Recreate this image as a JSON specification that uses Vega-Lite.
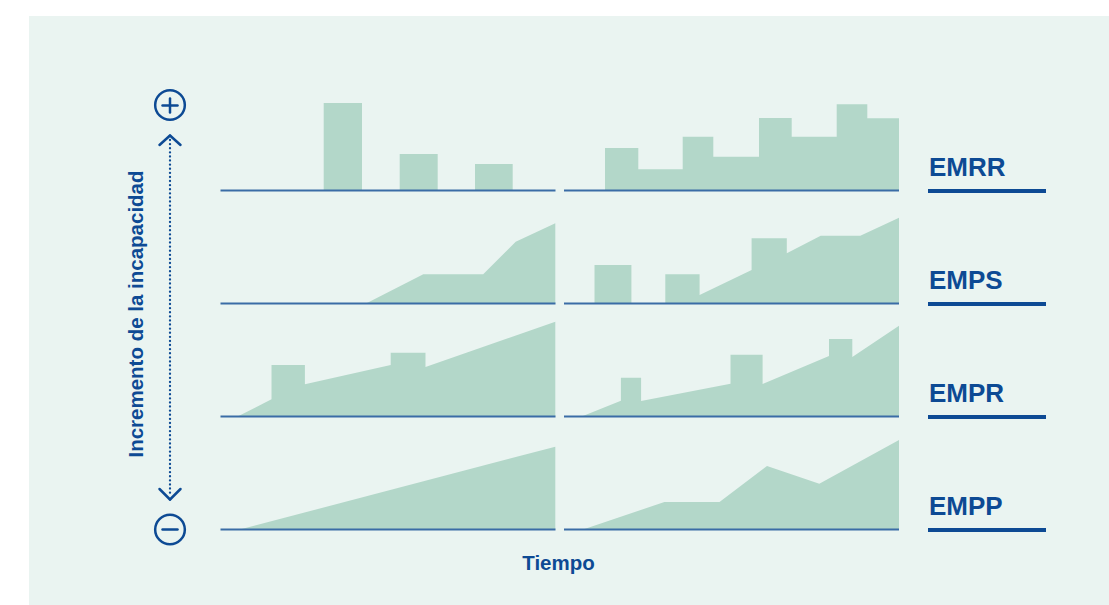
{
  "$schema": "https://vega.github.io/schema/vega-lite/v6.json",
  "width": 1109,
  "height": 605,
  "autosize": {"type": "fit", "contains": "padding"},
  "padding": 0,
  "background": "#ffffff",
  "config": {"view": {"stroke": null}},
  "datasets": {
    "bg": [{"x": 29, "x2": 1109, "y": 16, "y2": 605}],
    "areas": [
      {"s": "r1b1", "x": 323.7, "y": 103, "base": 190.5},
      {"s": "r1b1", "x": 362, "y": 103, "base": 190.5},
      {"s": "r1b2", "x": 399.7, "y": 154, "base": 190.5},
      {"s": "r1b2", "x": 437.7, "y": 154, "base": 190.5},
      {"s": "r1b3", "x": 475, "y": 164, "base": 190.5},
      {"s": "r1b3", "x": 512.7, "y": 164, "base": 190.5},
      {"s": "r1r", "x": 605, "y": 148, "base": 190.5},
      {"s": "r1r", "x": 638.3, "y": 148, "base": 190.5},
      {"s": "r1r", "x": 638.3, "y": 169.3, "base": 190.5},
      {"s": "r1r", "x": 682.7, "y": 169.3, "base": 190.5},
      {"s": "r1r", "x": 682.7, "y": 136.7, "base": 190.5},
      {"s": "r1r", "x": 713.3, "y": 136.7, "base": 190.5},
      {"s": "r1r", "x": 713.3, "y": 156.7, "base": 190.5},
      {"s": "r1r", "x": 759, "y": 156.7, "base": 190.5},
      {"s": "r1r", "x": 759, "y": 118, "base": 190.5},
      {"s": "r1r", "x": 791.7, "y": 118, "base": 190.5},
      {"s": "r1r", "x": 791.7, "y": 136.7, "base": 190.5},
      {"s": "r1r", "x": 836.7, "y": 136.7, "base": 190.5},
      {"s": "r1r", "x": 836.7, "y": 104.3, "base": 190.5},
      {"s": "r1r", "x": 867.3, "y": 104.3, "base": 190.5},
      {"s": "r1r", "x": 867.3, "y": 118.3, "base": 190.5},
      {"s": "r1r", "x": 899, "y": 118.3, "base": 190.5},
      {"s": "r2l", "x": 366, "y": 303.5, "base": 303.5},
      {"s": "r2l", "x": 423.3, "y": 274.3, "base": 303.5},
      {"s": "r2l", "x": 483.2, "y": 274.3, "base": 303.5},
      {"s": "r2l", "x": 515.7, "y": 241.7, "base": 303.5},
      {"s": "r2l", "x": 555.3, "y": 223.3, "base": 303.5},
      {"s": "r2b", "x": 594.5, "y": 265, "base": 303.5},
      {"s": "r2b", "x": 631.4, "y": 265, "base": 303.5},
      {"s": "r2r", "x": 665.3, "y": 274.3, "base": 303.5},
      {"s": "r2r", "x": 699.6, "y": 274.3, "base": 303.5},
      {"s": "r2r", "x": 699.6, "y": 295, "base": 303.5},
      {"s": "r2r", "x": 751.6, "y": 270, "base": 303.5},
      {"s": "r2r", "x": 751.6, "y": 238.3, "base": 303.5},
      {"s": "r2r", "x": 786.8, "y": 238.3, "base": 303.5},
      {"s": "r2r", "x": 786.8, "y": 253.3, "base": 303.5},
      {"s": "r2r", "x": 820.7, "y": 235.7, "base": 303.5},
      {"s": "r2r", "x": 860.3, "y": 235.7, "base": 303.5},
      {"s": "r2r", "x": 899, "y": 217.7, "base": 303.5},
      {"s": "r3l", "x": 237.6, "y": 416.5, "base": 416.5},
      {"s": "r3l", "x": 271.5, "y": 399.3, "base": 416.5},
      {"s": "r3l", "x": 271.5, "y": 365, "base": 416.5},
      {"s": "r3l", "x": 304.9, "y": 365, "base": 416.5},
      {"s": "r3l", "x": 304.9, "y": 384.3, "base": 416.5},
      {"s": "r3l", "x": 390.7, "y": 365, "base": 416.5},
      {"s": "r3l", "x": 390.7, "y": 352.7, "base": 416.5},
      {"s": "r3l", "x": 425.5, "y": 352.7, "base": 416.5},
      {"s": "r3l", "x": 425.5, "y": 367, "base": 416.5},
      {"s": "r3l", "x": 555.3, "y": 321.7, "base": 416.5},
      {"s": "r3r", "x": 581.7, "y": 416.5, "base": 416.5},
      {"s": "r3r", "x": 620.9, "y": 400.7, "base": 416.5},
      {"s": "r3r", "x": 620.9, "y": 377.7, "base": 416.5},
      {"s": "r3r", "x": 641.1, "y": 377.7, "base": 416.5},
      {"s": "r3r", "x": 641.1, "y": 401, "base": 416.5},
      {"s": "r3r", "x": 730.5, "y": 383.7, "base": 416.5},
      {"s": "r3r", "x": 730.5, "y": 354.7, "base": 416.5},
      {"s": "r3r", "x": 762.6, "y": 354.7, "base": 416.5},
      {"s": "r3r", "x": 762.6, "y": 384, "base": 416.5},
      {"s": "r3r", "x": 829, "y": 356, "base": 416.5},
      {"s": "r3r", "x": 829, "y": 339, "base": 416.5},
      {"s": "r3r", "x": 852.3, "y": 339, "base": 416.5},
      {"s": "r3r", "x": 852.3, "y": 357, "base": 416.5},
      {"s": "r3r", "x": 899, "y": 325.7, "base": 416.5},
      {"s": "r4l", "x": 239.8, "y": 529.5, "base": 529.5},
      {"s": "r4l", "x": 555.3, "y": 446.7, "base": 529.5},
      {"s": "r4r", "x": 583, "y": 529.5, "base": 529.5},
      {"s": "r4r", "x": 664.4, "y": 502, "base": 529.5},
      {"s": "r4r", "x": 719.5, "y": 502, "base": 529.5},
      {"s": "r4r", "x": 767, "y": 466, "base": 529.5},
      {"s": "r4r", "x": 819.3, "y": 483.7, "base": 529.5},
      {"s": "r4r", "x": 899, "y": 440, "base": 529.5}
    ],
    "baselines": [
      {"x": 220.5, "x2": 555.5, "y": 190.5},
      {"x": 564, "x2": 899, "y": 190.5},
      {"x": 220.5, "x2": 555.5, "y": 303.5},
      {"x": 564, "x2": 899, "y": 303.5},
      {"x": 220.5, "x2": 555.5, "y": 416.5},
      {"x": 564, "x2": 899, "y": 416.5},
      {"x": 220.5, "x2": 555.5, "y": 529.5},
      {"x": 564, "x2": 899, "y": 529.5}
    ],
    "labels": [
      {"label": "EMRR", "x": 929, "y": 176, "ux": 928, "ux2": 1046, "uy": 191},
      {"label": "EMPS", "x": 929, "y": 289, "ux": 928, "ux2": 1046, "uy": 304},
      {"label": "EMPR", "x": 929, "y": 402, "ux": 928, "ux2": 1046, "uy": 417},
      {"label": "EMPP", "x": 929, "y": 515, "ux": 928, "ux2": 1046, "uy": 530}
    ],
    "circles": [
      {"x": 170, "y": 105},
      {"x": 170, "y": 529.5}
    ],
    "strokes": [
      {"x": 162.5, "y": 105.5, "x2": 177.5, "y2": 105.5},
      {"x": 170, "y": 98.5, "x2": 170, "y2": 112.5},
      {"x": 162.5, "y": 529.5, "x2": 177.5, "y2": 529.5},
      {"x": 159.5, "y": 145, "x2": 170, "y2": 135.5},
      {"x": 170, "y": 135.5, "x2": 180.5, "y2": 145},
      {"x": 159.5, "y": 489, "x2": 170, "y2": 499.5},
      {"x": 170, "y": 499.5, "x2": 180.5, "y2": 489}
    ],
    "dotted": [
      {"x": 170, "y": 140, "x2": 170, "y2": 496}
    ],
    "titles": [
      {"t": "Tiempo", "x": 558.5, "y": 569.5, "a": 0},
      {"t": "Incremento de la incapacidad", "x": 143, "y": 314, "a": 270}
    ]
  },
  "layer": [
    {
      "data": {"name": "bg"},
      "mark": {"type": "rect", "fill": "#eaf4f1"},
      "encoding": {
        "x": {"field": "x", "type": "quantitative", "scale": {"domain": [0, 1109], "nice": false, "zero": false}, "axis": null},
        "x2": {"field": "x2"},
        "y": {"field": "y", "type": "quantitative", "scale": {"domain": [0, 605], "nice": false, "zero": false, "reverse": true}, "axis": null},
        "y2": {"field": "y2"}
      }
    },
    {
      "data": {"name": "areas"},
      "mark": {"type": "area", "color": "#b3d7c9"},
      "encoding": {
        "x": {"field": "x", "type": "quantitative"},
        "y": {"field": "y", "type": "quantitative"},
        "y2": {"field": "base"},
        "detail": {"field": "s", "type": "nominal"}
      }
    },
    {
      "data": {"name": "baselines"},
      "mark": {"type": "rule", "color": "#3a6ca6", "strokeWidth": 2.2},
      "encoding": {
        "x": {"field": "x", "type": "quantitative"},
        "x2": {"field": "x2"},
        "y": {"field": "y", "type": "quantitative"}
      }
    },
    {
      "data": {"name": "labels"},
      "mark": {"type": "rule", "color": "#0d4a94", "strokeWidth": 4},
      "encoding": {
        "x": {"field": "ux", "type": "quantitative"},
        "x2": {"field": "ux2"},
        "y": {"field": "uy", "type": "quantitative"}
      }
    },
    {
      "data": {"name": "labels"},
      "mark": {"type": "text", "font": "Liberation Sans", "fontSize": 26, "fontWeight": "bold", "color": "#0d4a94", "align": "left", "baseline": "alphabetic"},
      "encoding": {
        "x": {"field": "x", "type": "quantitative"},
        "y": {"field": "y", "type": "quantitative"},
        "text": {"field": "label", "type": "nominal"}
      }
    },
    {
      "data": {"name": "titles"},
      "mark": {"type": "text", "font": "Liberation Sans", "fontSize": 20.5, "fontWeight": "bold", "color": "#0d4a94", "align": "center", "baseline": "alphabetic"},
      "encoding": {
        "x": {"field": "x", "type": "quantitative"},
        "y": {"field": "y", "type": "quantitative"},
        "text": {"field": "t", "type": "nominal"},
        "angle": {"field": "a", "type": "quantitative", "scale": null}
      }
    },
    {
      "data": {"name": "circles"},
      "mark": {"type": "point", "shape": "circle", "size": 880, "filled": false, "stroke": "#0d4a94", "strokeWidth": 2.5, "opacity": 1},
      "encoding": {
        "x": {"field": "x", "type": "quantitative"},
        "y": {"field": "y", "type": "quantitative"}
      }
    },
    {
      "data": {"name": "strokes"},
      "mark": {"type": "rule", "color": "#0d4a94", "strokeWidth": 2.5, "strokeCap": "round"},
      "encoding": {
        "x": {"field": "x", "type": "quantitative"},
        "y": {"field": "y", "type": "quantitative"},
        "x2": {"field": "x2"},
        "y2": {"field": "y2"}
      }
    },
    {
      "data": {"name": "dotted"},
      "mark": {"type": "rule", "color": "#0d4a94", "strokeWidth": 2.3, "strokeCap": "round", "strokeDash": [0.1, 4]},
      "encoding": {
        "x": {"field": "x", "type": "quantitative"},
        "y": {"field": "y", "type": "quantitative"},
        "x2": {"field": "x2"},
        "y2": {"field": "y2"}
      }
    }
  ]
}
